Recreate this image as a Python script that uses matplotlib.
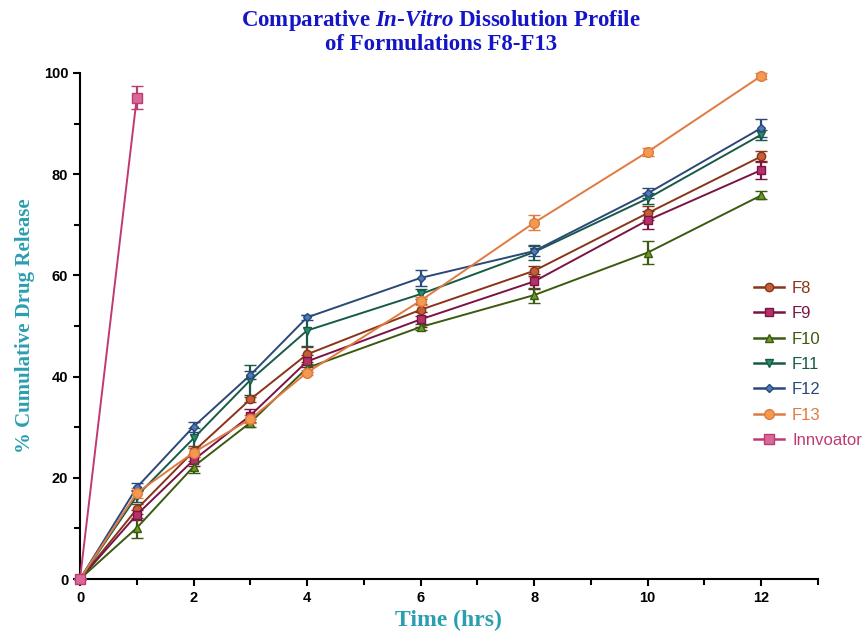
import numpy as np
import matplotlib
matplotlib.use("Agg")
import matplotlib.pyplot as plt
from matplotlib.lines import Line2D

# dissolution data (time in hrs, % released)
time = [0, 1, 2, 3, 4, 6, 8, 10, 12]
f8 = [0, 13.8, 25.2, 35.5, 44.4, 53.2, 60.9, 72.3, 83.5]
f9 = [0, 12.7, 23.5, 32.3, 43.0, 51.3, 58.8, 70.9, 80.8]
f10 = [0, 10.1, 22.2, 30.9, 41.7, 49.8, 56.1, 64.5, 75.8]
f11 = [0, 16.4, 27.8, 39.3, 49.1, 56.3, 64.6, 75.2, 87.8]
f12 = [0, 18.1, 30.1, 40.3, 51.7, 59.5, 64.8, 76.2, 89.1]
f13 = [0, 17.0, 25.0, 31.6, 40.8, 55.0, 70.4, 84.4, 99.4]
inn_time = [0, 1]
innovator = [0, 95.1]

f8_err = [0, 1.0, 1.0, 0.5, 1.5, 1.2, 1.0, 1.4, 1.0]
f9_err = [0, 1.0, 1.2, 1.2, 1.2, 1.5, 1.5, 1.8, 1.8]
f10_err = [0, 2.0, 1.2, 0.8, 0.8, 0.5, 1.5, 2.2, 0.8]
f11_err = [0, 1.2, 2.0, 3.0, 3.0, 1.0, 1.5, 1.0, 1.0]
f12_err = [0, 0.8, 1.0, 0.8, 0.5, 1.5, 1.0, 1.0, 1.8]
f13_err = [0, 1.0, 0.8, 0.8, 0.5, 0.8, 1.5, 0.8, 0.5]
inn_err = [0, 2.3]

plt.rcParams["mathtext.fontset"] = "custom"
plt.rcParams["mathtext.bfit"] = "Liberation Serif:italic:bold"
plt.rcParams["mathtext.rm"] = "Liberation Serif:bold"

fig = plt.figure(figsize=(8.64, 6.33), dpi=100)
ax = fig.add_axes([0.0926, 0.0853, 0.854, 0.7994])

# (label, x, y, err, marker, marker color, line color, marker size)
series = [
    ("F8", time, f8, f8_err, "o", "#c2603a", "#8a3418", 6),
    ("F9", time, f9, f9_err, "s", "#b8306a", "#7a1444", 6),
    ("F10", time, f10, f10_err, "^", "#6e9a2a", "#3a5a10", 6),
    ("F11", time, f11, f11_err, "v", "#2a8a6e", "#185a48", 6),
    ("F12", time, f12, f12_err, "D", "#4a7cc0", "#2c4878", 4),
    ("F13", time, f13, f13_err, "o", "#f39a50", "#e07a40", 7),
    ("Innvoator", inn_time, innovator, inn_err, "s", "#d86a9a", "#c03a72", 7),
]

handles = []
for lab, xs, ys, es, mk, mc, lc, ms in series:
    ax.errorbar(xs, ys, yerr=es, color=lc, lw=1.4, marker=mk, ms=ms,
                mfc=mc, mec=lc, mew=1.0, ecolor=lc, elinewidth=1.6,
                capsize=4, capthick=1.6, clip_on=False, zorder=3)
    handles.append(Line2D([], [], color=lc, lw=1.8, marker=mk, ms=ms,
                          mfc=mc, mec=lc, mew=1.0, label=lab))

ax.set_xlim(0, 13)
ax.set_ylim(0, 100)
ax.set_xticks([0, 2, 4, 6, 8, 10, 12])
ax.set_xticks([1, 3, 5, 7, 9, 11, 13], minor=True)
ax.set_yticks([0, 20, 40, 60, 80, 100])
ax.set_yticks([10, 30, 50, 70, 90], minor=True)
ax.spines["top"].set_visible(False)
ax.spines["right"].set_visible(False)
for s in ("left", "bottom"):
    ax.spines[s].set_linewidth(1.5)
ax.tick_params(which="both", direction="out", width=1.5, color="black")
ax.tick_params(which="major", length=5)
ax.tick_params(which="minor", length=4)
for t in ax.get_xticklabels() + ax.get_yticklabels():
    t.set_fontfamily("Liberation Sans")
    t.set_fontweight("bold")
    t.set_fontsize(10.5)

ax.set_xlabel("Time (hrs)", family="Liberation Serif", weight="bold",
              fontsize=17, color="#2a9fb0", labelpad=4)
ax.set_ylabel("% Cumulative Drug Release", family="Liberation Serif",
              weight="bold", fontsize=15, color="#2a9fb0", labelpad=6)

fig.text(0.51, 0.968, r"Comparative $\mathbfit{In}$-$\mathbfit{Vitro}$ Dissolution Profile",
         ha="center", va="center", family="Liberation Serif", weight="bold",
         fontsize=16.5, color="#1515c8")
fig.text(0.51, 0.93, "of Formulations F8-F13", ha="center", va="center",
         family="Liberation Serif", weight="bold", fontsize=16.5, color="#1515c8")

leg = fig.legend(handles=handles, loc="upper left", bbox_to_anchor=(0.855, 0.58),
                 frameon=False, handlelength=1.8,
                 labelspacing=0.62, handletextpad=0.5,
                 prop={"family": "Liberation Sans", "size": 12})
for txt, (lab, xs, ys, es, mk, mc, lc, ms) in zip(leg.get_texts(), series):
    txt.set_color(lc)

fig.savefig("out.png", dpi=100)
